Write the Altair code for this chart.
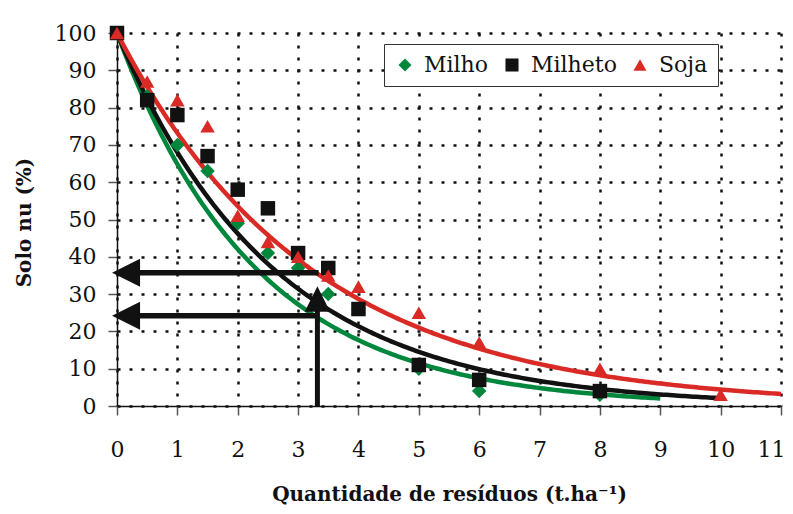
import altair as alt
import pandas as pd
import numpy as np

# ---- data ----
series_names = ["Milho", "Milheto", "Soja"]
series_colors = ["#00873E", "#111111", "#DA2A25"]
series_shapes = ["diamond", "square", "triangle-up"]
curve_extent = [9, 10, 11]

milho_x = [0, 0.5, 1, 1.5, 2, 2.5, 3, 3.5, 4, 5, 6, 8]
milho_y = [100, 83, 70, 63, 49, 41, 37, 30, 26, 10, 4, 3]

milheto_x = [0, 0.5, 1, 1.5, 2, 2.5, 3, 3.5, 4, 5, 6, 8]
milheto_y = [100, 82, 78, 67, 58, 53, 41, 37, 26, 11, 7, 4]

soja_x = [0, 0.5, 1, 1.5, 2, 2.5, 3, 3.5, 4, 5, 6, 8, 10]
soja_y = [100, 87, 82, 75, 51, 44, 40, 35, 32, 25, 17, 10, 3]

x_ticks = list(range(0, 12))
y_ticks = list(range(0, 101, 10))

# annotation arrows (data units)
arrow_h_y = [35.7, 24.2]
arrow_h_x0 = [0.3, 0.3]
arrow_h_x1 = [3.34, 3.32]
arrow_v_x = [3.32]
arrow_v_y0 = [0]
arrow_v_y1 = [27]
head_left_x = [0.15, 0.15]
head_left_y = [35.7, 24.2]
head_up_x = [3.32]
head_up_y = [28.7]

FONT = "DejaVu Serif"

series_data = {"Milho": (milho_x, milho_y), "Milheto": (milheto_x, milheto_y), "Soja": (soja_x, soja_y)}

rows = []
for name in series_names:
    xs, ys = series_data[name]
    for a, b in zip(xs, ys):
        rows.append({"serie": name, "x": a, "y": b})
df = pd.DataFrame(rows)

# exponential trend y = 100*exp(-k x), k fitted (log-linear, through 100) from each series
def fit_k(xs, ys):
    xs = np.asarray(xs, float)
    ys = np.asarray(ys, float)
    return float(-(xs * np.log(ys / 100.0)).sum() / (xs ** 2).sum())

xscale = alt.Scale(domain=[0, 11], nice=False)
yscale = alt.Scale(domain=[0, 100], nice=False)

xaxis = alt.Axis(values=x_ticks, title="Quantidade de resíduos (t.ha⁻¹)",
                 titleX=332, titleY=94, titleBaseline="alphabetic", titleAlign="center",
                 labelPadding=24, labelFlush=False, labelOverlap=False, format="d",
                 labelAlign={"condition": {"test": "datum.value == 11", "value": "right"}, "value": "center"},
                 labelOffset={"condition": {"test": "datum.value == 11", "value": 4}, "value": 0})
yaxis = alt.Axis(values=y_ticks, title="Solo nu (%)", titleX=-93, titleY=189,
                 titleBaseline="middle", titleAlign="center", titleAngle=-90,
                 labelPadding=12, labelOverlap=False, format="d")

X = alt.X("x:Q", scale=xscale, axis=xaxis)
Y = alt.Y("y:Q", scale=yscale, axis=yaxis)

layers = []
for name, color, ext in zip(series_names, series_colors, curve_extent):
    k = fit_k(*series_data[name])
    layers.append(
        alt.Chart(alt.sequence(0, ext + 0.001, 0.05, as_="x"))
        .transform_calculate(y=f"100*exp(-{k}*datum.x)")
        .mark_line(color=color, strokeWidth=4.5)
        .encode(x=X, y=Y)
    )

points = alt.Chart(df).mark_point(filled=True, size=210, opacity=1).encode(
    x=X, y=Y,
    color=alt.Color("serie:N", scale=alt.Scale(domain=series_names, range=series_colors),
                    legend=alt.Legend(title=None, orient="none", legendX=267, legendY=11,
                                      direction="horizontal", columns=3,
                                      strokeColor="#333", fillColor="white", padding=10,
                                      labelFont=FONT, labelFontSize=22, labelColor="#111",
                                      symbolSize=170, symbolStrokeWidth=0,
                                      labelOffset=8, columnPadding=12)),
    shape=alt.Shape("serie:N", scale=alt.Scale(domain=series_names, range=series_shapes)),
    order=alt.Order("serie_order:Q"),
).transform_calculate(serie_order="indexof(['Milho','Milheto','Soja'], datum.serie)")

hdf = pd.DataFrame({"x0": arrow_h_x0, "x1": arrow_h_x1, "y": arrow_h_y})
hrules = alt.Chart(hdf).mark_rule(color="#111", strokeWidth=5.5).encode(
    x=alt.X("x0:Q", scale=xscale, axis=xaxis), x2="x1:Q", y=alt.Y("y:Q", scale=yscale, axis=yaxis))

vdf = pd.DataFrame({"x": arrow_v_x, "y0": arrow_v_y0, "y1": arrow_v_y1})
vrule = alt.Chart(vdf).mark_rule(color="#111", strokeWidth=5).encode(
    x=alt.X("x:Q", scale=xscale, axis=xaxis), y=alt.Y("y0:Q", scale=yscale, axis=yaxis), y2="y1:Q")

ldf = pd.DataFrame({"x": head_left_x, "y": head_left_y})
lheads = alt.Chart(ldf).mark_point(filled=True, opacity=1, color="#111", size=784,
                                   shape="M-1,0L1,-1L1,1Z").encode(x=X, y=Y)

udf = pd.DataFrame({"x": head_up_x, "y": head_up_y})
uhead = alt.Chart(udf).mark_point(filled=True, opacity=1, color="#111", size=650,
                                  shape="M0,-1L1,1L-1,1Z").encode(x=X, y=Y)

chart = alt.layer(*layers, points, hrules, vrule, lheads, uhead).properties(
    width=664, height=373,
    autosize=alt.AutoSizeParams(type="none"),
    padding={"left": 109, "top": 25, "right": 4, "bottom": 100},
).configure_view(stroke=None).configure_axis(
    labelFont=FONT, labelFontSize=22, labelColor="#111",
    titleFont=FONT, titleFontSize=20, titleFontWeight="bold", titleColor="#111",
    domainColor="#111", domainWidth=1.5,
    tickColor="#555", tickWidth=1.5, tickSize=9,
    gridColor="#111", gridDash=[3, 9], gridWidth=2.5, gridOpacity=1,
).configure_legend(labelFont=FONT)

chart.save("out.html", embed_options={"renderer": "svg", "actions": False})
